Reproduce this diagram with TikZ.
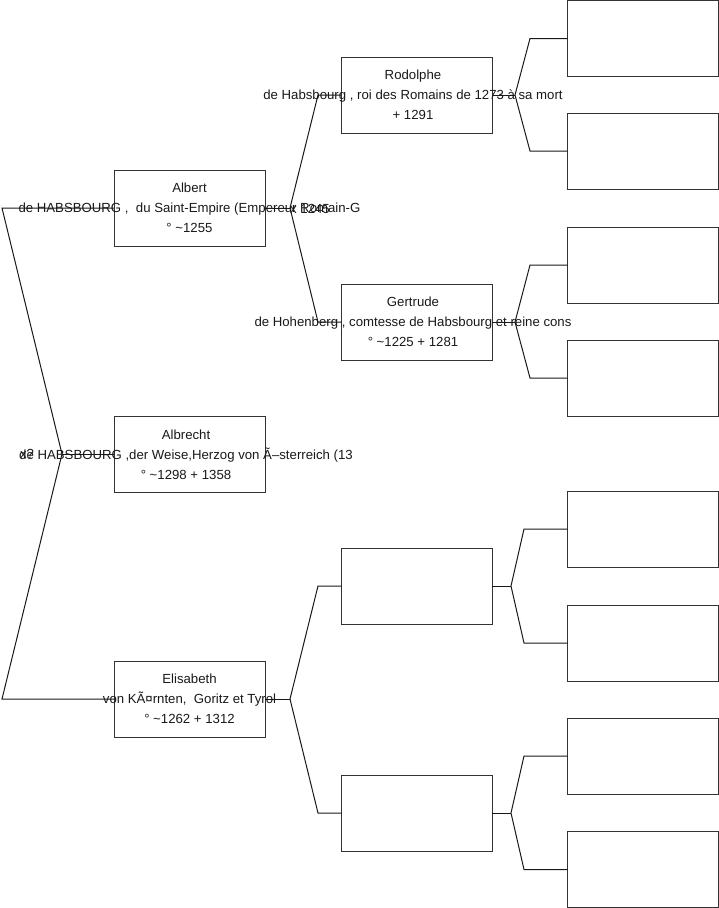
\documentclass[tikz,border=0pt]{standalone}
\usepackage{fontspec}
\setmainfont{Liberation Sans}
\begin{document}
\begin{tikzpicture}[x=1pt,y=-1pt,
  pbox/.style={draw=black!80,line width=0.9pt,minimum width=151pt,minimum height=76pt,inner sep=0pt,outer sep=0pt},
  ptext/.style={font=\fontsize{13.2}{20}\selectfont,align=center,inner sep=0pt,text=black!90},
  conn/.style={draw=black!90,line width=1pt}]
\useasboundingbox (0,0) rectangle (719,908);
% generation 1
\node[pbox] (albert) at (189.5,208) {};
\node[pbox] (albrecht) at (189.5,454) {};
\node[pbox] (elisabeth) at (189.5,699) {};
% generation 2
\node[pbox] (rodolphe) at (416.5,95) {};
\node[pbox] (gertrude) at (416.5,322) {};
\node[pbox] (p3) at (416.5,586) {};
\node[pbox] (p4) at (416.5,813) {};
% generation 3
\node[pbox] (g1) at (643,38.5) {};
\node[pbox] (g2) at (643,151) {};
\node[pbox] (g3) at (643,265) {};
\node[pbox] (g4) at (643,378) {};
\node[pbox] (g5) at (643,529) {};
\node[pbox] (g6) at (643,643) {};
\node[pbox] (g7) at (643,756) {};
\node[pbox] (g8) at (643,869.5) {};
% texts
\node[ptext] (talbert) at (189.5,208) {Albert\\de HABSBOURG ,\ \ du Saint-Empire (Empereur Romain-G\\° \textasciitilde1255};
\node[ptext] (talbrecht) at (186,455) {Albrecht\\de HABSBOURG ,der Weise,Herzog von Ã–sterreich (13\\° \textasciitilde1298 + 1358};
\node[ptext] (telisabeth) at (189.5,699) {Elisabeth\\von KÃ¤rnten,\ \ Goritz et Tyrol\\° \textasciitilde1262 + 1312};
\node[ptext] (trodolphe) at (413,95) {Rodolphe\\de Habsbourg , roi des Romains de 1273 à sa mort\\+ 1291};
\node[ptext] (tgertrude) at (413,322) {Gertrude\\de Hohenberg , comtesse de Habsbourg et reine cons\\° \textasciitilde1225 + 1281};
\node[ptext,anchor=west] (m1) at (290,209) {x 1245};
\node[ptext] (m2) at (27,454) {x?};
% connectors
\coordinate (L1) at (2,208);
\coordinate (L2) at (62,454);
\coordinate (L3) at (2,699);
\draw[conn] (albert.west) -- (L1) -- (L2) -- (L3) -- (elisabeth.west);
\draw[conn] (albrecht.west) -- (L2);
\coordinate (A1) at (290,208);
\coordinate (A2) at (318,95);
\coordinate (A3) at (318,322);
\draw[conn] (albert.east) -- (A1);
\draw[conn] (rodolphe.west) -- (A2) -- (A1) -- (A3) -- (gertrude.west);
\coordinate (E1) at (290,699);
\coordinate (E2) at (318,586);
\coordinate (E3) at (318,813);
\draw[conn] (elisabeth.east) -- (E1);
\draw[conn] (p3.west) -- (E2) -- (E1) -- (E3) -- (p4.west);
\coordinate (R1) at (515,95);
\coordinate (R2) at (530,38.5);
\coordinate (R3) at (530,151);
\draw[conn] (rodolphe.east) -- (R1);
\draw[conn] (g1.west) -- (R2) -- (R1) -- (R3) -- (g2.west);
\coordinate (G1) at (515,322);
\coordinate (G2) at (530,265);
\coordinate (G3) at (530,378);
\draw[conn] (gertrude.east) -- (G1);
\draw[conn] (g3.west) -- (G2) -- (G1) -- (G3) -- (g4.west);
\coordinate (P1) at (511,586);
\coordinate (P2) at (524,529);
\coordinate (P3) at (524,643);
\draw[conn] (p3.east) -- (P1);
\draw[conn] (g5.west) -- (P2) -- (P1) -- (P3) -- (g6.west);
\coordinate (Q1) at (511,813);
\coordinate (Q2) at (524,756);
\coordinate (Q3) at (524,869.5);
\draw[conn] (p4.east) -- (Q1);
\draw[conn] (g7.west) -- (Q2) -- (Q1) -- (Q3) -- (g8.west);
\end{tikzpicture}
\end{document}
